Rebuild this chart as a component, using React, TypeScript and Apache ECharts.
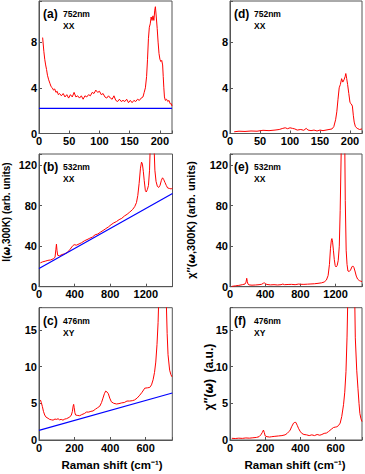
import React, { useEffect, useRef } from "react";
import * as echarts from "echarts";

// ---- data ----
const ramanA: number[][] = [[6,8.4],[8,7.2],[9.5,6.5],[11,6.0],[12.5,5.6],[14,5.1],[16,4.7],[18,4.4],[20,4.1],[22,4.0],[24,3.8],[26,3.9],[28,3.6],[30,3.7],[32,3.4],[34,3.5],[37,3.3],[40,3.5],[43,3.2],[46,3.4],[49,3.1],[52,3.4],[55,3.2],[58,3.6],[61,3.2],[64,3.3],[67,3.1],[70,3.3],[73,3.0],[76,3.3],[79,3.2],[82,3.4],[85,3.3],[88,3.6],[91,3.5],[94,3.8],[97,3.6],[100,3.7],[103,3.4],[106,3.5],[109,3.2],[112,3.1],[115,3.3],[118,3.1],[121,3.0],[124,3.3],[127,2.9],[130,2.8],[133,3.0],[136,2.8],[139,2.9],[142,2.8],[145,3.0],[148,2.7],[151,2.9],[154,2.7],[157,2.9],[160,2.8],[163,3.0],[166,2.9],[169,3.1],[172,3.2],[174,3.6],[176,4.0],[178,5.0],[179.5,6.5],[181,8.3],[182.5,9.3],[184,9.6],[185.5,10.2],[187,9.9],[188.5,10.3],[190,9.9],[191.5,10.8],[192.5,11.1],[194,10.2],[195.5,9.2],[197,8.0],[198.5,7.0],[200,6.5],[201.5,6.3],[203,6.4],[204.5,6.0],[205.5,5.0],[206.5,4.0],[207.5,3.2],[209,2.9],[211,3.0],[213,2.8],[215,2.9],[217,2.6],[219,2.6],[220,2.4]];
const baseA: number[][] = [[0,2.2],[220,2.2]];

const ramanB: number[][] = [[15,23.5],[40,24.5],[70,25.2],[100,26],[130,26.4],[160,27.5],[180,29],[190,37],[196,42],[202,36],[210,31],[230,30.5],[260,31.8],[290,32.5],[320,34],[350,37],[375,40],[395,41.5],[420,41],[450,42.2],[480,43.5],[510,45.3],[540,46.5],[570,47.8],[600,49],[630,51.2],[660,52],[690,53.8],[720,55.5],[750,57.3],[780,59],[810,61.2],[840,63],[870,64.3],[900,66.2],[930,67.5],[960,69.8],[990,71.5],[1020,73.7],[1050,76],[1075,79],[1095,83],[1110,90],[1125,102],[1140,117],[1152,123],[1162,121],[1172,114],[1182,105],[1195,95],[1205,93.5],[1218,96],[1230,100],[1242,115],[1252,145],[1262,200],[1272,240],[1282,200],[1292,140],[1302,115],[1315,104],[1330,99],[1345,98],[1360,100],[1375,105],[1388,107.5],[1400,106],[1415,103],[1430,100],[1445,97.5],[1465,97],[1485,96.5],[1500,97.5]];
const baseB: number[][] = [[0,18],[1500,92]];

const ramanC: number[][] = [[8,5.45],[13,5.1],[19,4.55],[25,3.9],[32,3.4],[40,3.1],[51,2.95],[60,2.8],[70,2.75],[79,2.7],[90,2.85],[100,2.8],[107,2.9],[115,2.75],[125,2.8],[135,2.7],[145,2.85],[155,2.9],[163,3.0],[172,3.1],[182,3.4],[188,3.9],[192,4.6],[195,4.85],[198,4.4],[202,3.7],[206,3.4],[215,3.35],[229,3.3],[240,3.45],[255,3.6],[267,3.8],[280,3.8],[292,3.9],[304,3.95],[318,4.2],[330,4.4],[342,4.6],[352,5.1],[360,5.7],[368,6.3],[375,6.65],[382,6.55],[390,6.3],[398,5.7],[407,5.2],[420,5.0],[436,4.9],[450,4.95],[465,5.05],[480,5.1],[495,5.3],[510,5.3],[525,5.35],[538,5.45],[552,5.7],[567,6.1],[580,6.5],[595,7.05],[610,7.1],[623,7.15],[633,7.5],[642,8.2],[650,9.2],[657,10.6],[664,13],[670,16],[676,21],[685,35],[692,42],[700,34],[710,24],[716,19],[721,14.5],[726,11.6],[735,9.5],[742,8.9],[748,8.6]];
const baseC: number[][] = [[0,1.3],[750,6.4]];

const chiD: number[][] = [[7,0.15],[15,0.2],[25,0.18],[35,0.22],[45,0.2],[55,0.28],[65,0.25],[75,0.3],[82,0.35],[88,0.45],[92,0.5],[96,0.42],[100,0.5],[104,0.45],[108,0.4],[112,0.3],[118,0.35],[123,0.28],[127,0.45],[130,0.3],[135,0.25],[140,0.3],[145,0.22],[150,0.3],[155,0.25],[160,0.3],[165,0.35],[170,0.4],[173,0.6],[176,1.2],[178,1.9],[180,3.0],[182,4.0],[184,4.3],[186,4.8],[188,4.5],[190,4.7],[192,5.0],[193,5.25],[194.5,4.8],[196,4.3],[198,3.5],[200,2.7],[202,2.6],[204,2.4],[205.5,1.6],[207,1.0],[209,0.6],[212,0.45],[216,0.35],[220,0.4]];

const chiE: number[][] = [[19,0.3],[60,0.8],[100,1.3],[140,2],[170,2.6],[182,4.5],[190,8.3],[197,5],[205,2.5],[215,1.8],[250,1.5],[290,1.7],[330,2],[360,2.4],[380,3.5],[390,3.8],[400,3],[420,2.2],[460,1.8],[500,2],[540,1.7],[580,2],[600,2.6],[620,2],[660,2.2],[700,2.3],[740,2],[780,2.6],[800,2.4],[840,2.3],[880,2.5],[920,2.7],[960,2.9],[1000,3.3],[1040,3.8],[1070,4.6],[1095,6.5],[1115,11],[1130,22],[1142,38],[1152,46],[1158,47.5],[1166,44],[1175,36],[1185,27],[1195,21],[1205,19.5],[1218,21],[1230,26],[1242,40],[1252,75],[1265,140],[1278,260],[1292,220],[1302,160],[1310,85],[1320,36],[1330,22],[1340,15.5],[1355,15],[1370,16.5],[1385,19.5],[1395,20.5],[1408,19],[1420,15.5],[1435,10.5],[1450,7.5],[1470,6],[1485,5.5],[1500,5]];

const chiF: number[][] = [[10,0.23],[30,0.2],[50,0.25],[70,0.22],[90,0.28],[110,0.25],[130,0.3],[150,0.35],[165,0.45],[175,0.7],[183,1.0],[190,1.35],[195,1.0],[200,0.55],[210,0.45],[225,0.4],[237,0.45],[255,0.5],[275,0.55],[295,0.6],[313,0.7],[325,0.9],[335,1.15],[342,1.35],[350,1.8],[361,2.3],[368,2.4],[374,2.4],[382,2.0],[389,1.6],[398,1.2],[408,0.9],[420,0.75],[435,0.7],[450,0.6],[465,0.7],[480,0.6],[495,0.75],[510,0.65],[522,0.75],[535,0.9],[548,0.95],[560,1.15],[575,1.45],[588,1.7],[598,1.75],[607,1.8],[616,1.95],[626,2.3],[635,3.2],[645,4.8],[652,6.5],[659,9.3],[665,14],[670,20],[680,35],[695,45],[705,25],[712,13.9],[720,9.5],[727,7.05],[733,5],[738,3.6],[744,2.9],[750,2.5]];

const panelLetters = ["(a)", "(b)", "(c)", "(d)", "(e)", "(f)"];
const lasers = ["752nm", "532nm", "476nm", "752nm", "532nm", "476nm"];
const pols = ["XX", "XX", "XY", "XX", "XX", "XY"];
const xRanges = [[0,220,50],[0,1500,400],[0,750,200],[0,220,50],[0,1500,400],[0,750,200]];
const yRanges = [[0,11.6,4],[0,131,40],[0,18,5],[0,11.6,4],[0,131,40],[0,18,5]];

const FONT = "'Liberation Sans', Arial, Helvetica, sans-serif";

export default function App() {
  const ref = useRef<HTMLDivElement>(null);
  useEffect(() => {
    if (!ref.current) return;
    const chart = echarts.init(ref.current, undefined, { renderer: "svg" });
    const lefts = [39, 39, 39, 230, 230, 230];
    const tops = [1, 154, 307.7, 1, 154, 307.7];
    const widths = [133, 133.5, 133.3, 132, 132, 132];
    const heights = [132.5, 132.7, 132.3, 132.5, 132.7, 132.3];
    const grids = lefts.map((l, i) => ({
      left: l, top: tops[i], width: widths[i], height: heights[i],
      show: true, borderColor: "#555", borderWidth: 1, backgroundColor: "transparent",
    }));
    const axisCommon = (i: number, r: number[]) => ({
      gridIndex: i, type: "value", min: r[0], max: r[1], interval: r[2],
      axisLine: { show: true, lineStyle: { color: "#555", width: 1 } },
      axisTick: { show: true, inside: true, length: 3, lineStyle: { color: "#555" } },
      splitLine: { show: false },
      axisLabel: {
        color: "#000", fontWeight: "bold", fontSize: 11, fontFamily: FONT, margin: 2,
        showMaxLabel: true,
        formatter: (v: number) => (Math.abs(v / r[2] - Math.round(v / r[2])) < 1e-6 ? String(v) : ""),
      },
    });
    const xAxes = xRanges.map((r, i) => axisCommon(i, r));
    const yAxes = yRanges.map((r, i) => axisCommon(i, r));
    const red = (data: number[][], i: number) => ({
      type: "line", xAxisIndex: i, yAxisIndex: i, data, showSymbol: false, clip: true,
      lineStyle: { color: "#ff0000", width: 1 }, silent: true,
    });
    const blue = (data: number[][], i: number) => ({
      type: "line", xAxisIndex: i, yAxisIndex: i, data, showSymbol: false, clip: true,
      lineStyle: { color: "#0000ff", width: 1.2 }, silent: true,
    });
    const series = [
      red(ramanA, 0), blue(baseA, 0),
      red(ramanB, 1), blue(baseB, 1),
      red(ramanC, 2), blue(baseC, 2),
      red(chiD, 3), red(chiE, 4), red(chiF, 5),
    ];
    const graphics: any[] = [];
    panelLetters.forEach((t, i) => {
      const x0 = lefts[i] + 4;
      const y0 = tops[i] + 13;
      graphics.push({ type: "text", x: x0, y: y0, style: { text: t, fontSize: 12, fontWeight: "bold", fontFamily: FONT, fill: "#000", align: "left", verticalAlign: "middle" } });
      graphics.push({ type: "text", x: x0 + 20, y: y0, style: { text: lasers[i], fontSize: 8.5, fontWeight: "bold", fontFamily: FONT, fill: "#000", align: "left", verticalAlign: "middle" } });
      graphics.push({ type: "text", x: x0 + 20, y: y0 + 12, style: { text: pols[i], fontSize: 8.5, fontWeight: "bold", fontFamily: FONT, fill: "#000", align: "left", verticalAlign: "middle" } });
    });
    const w = { fontStyle: "italic", fontWeight: "bold", fontFamily: "'DejaVu Sans', sans-serif" };
    const yName = (x: number, y: number, text: string, fs: number) => ({
      type: "text", x, y, rotation: Math.PI / 2,
      style: {
        text, fontSize: fs, fontWeight: "bold", fontFamily: FONT, fill: "#000",
        align: "center", verticalAlign: "middle",
        rich: { w: { ...w, fontSize: fs } },
      },
    });
    graphics.push(yName(6, 212, "I({w|ω},300K) (arb. units)", 10));
    graphics.push(yName(191, 220, "χ″({w|ω},300K) (arb. units)", 11));
    graphics.push(yName(209, 377, "χ″({w|ω})  (a.u.)", 12));
    const xName = (x: number) => ({
      type: "text", x, y: 465,
      style: { text: "Raman shift (cm⁻¹)", fontSize: 11.5, fontWeight: "bold", fontFamily: FONT, fill: "#000", align: "center", verticalAlign: "middle" },
    });
    graphics.push(xName(112));
    graphics.push(xName(295));

    chart.setOption({
      animation: false,
      backgroundColor: "#fff",
      grid: grids,
      xAxis: xAxes,
      yAxis: yAxes,
      series,
      graphic: graphics,
    } as any);
    return () => chart.dispose();
  }, []);
  return <div ref={ref} style={{ position: "absolute", left: 0, top: 0, width: 365, height: 474 }} />;
}
